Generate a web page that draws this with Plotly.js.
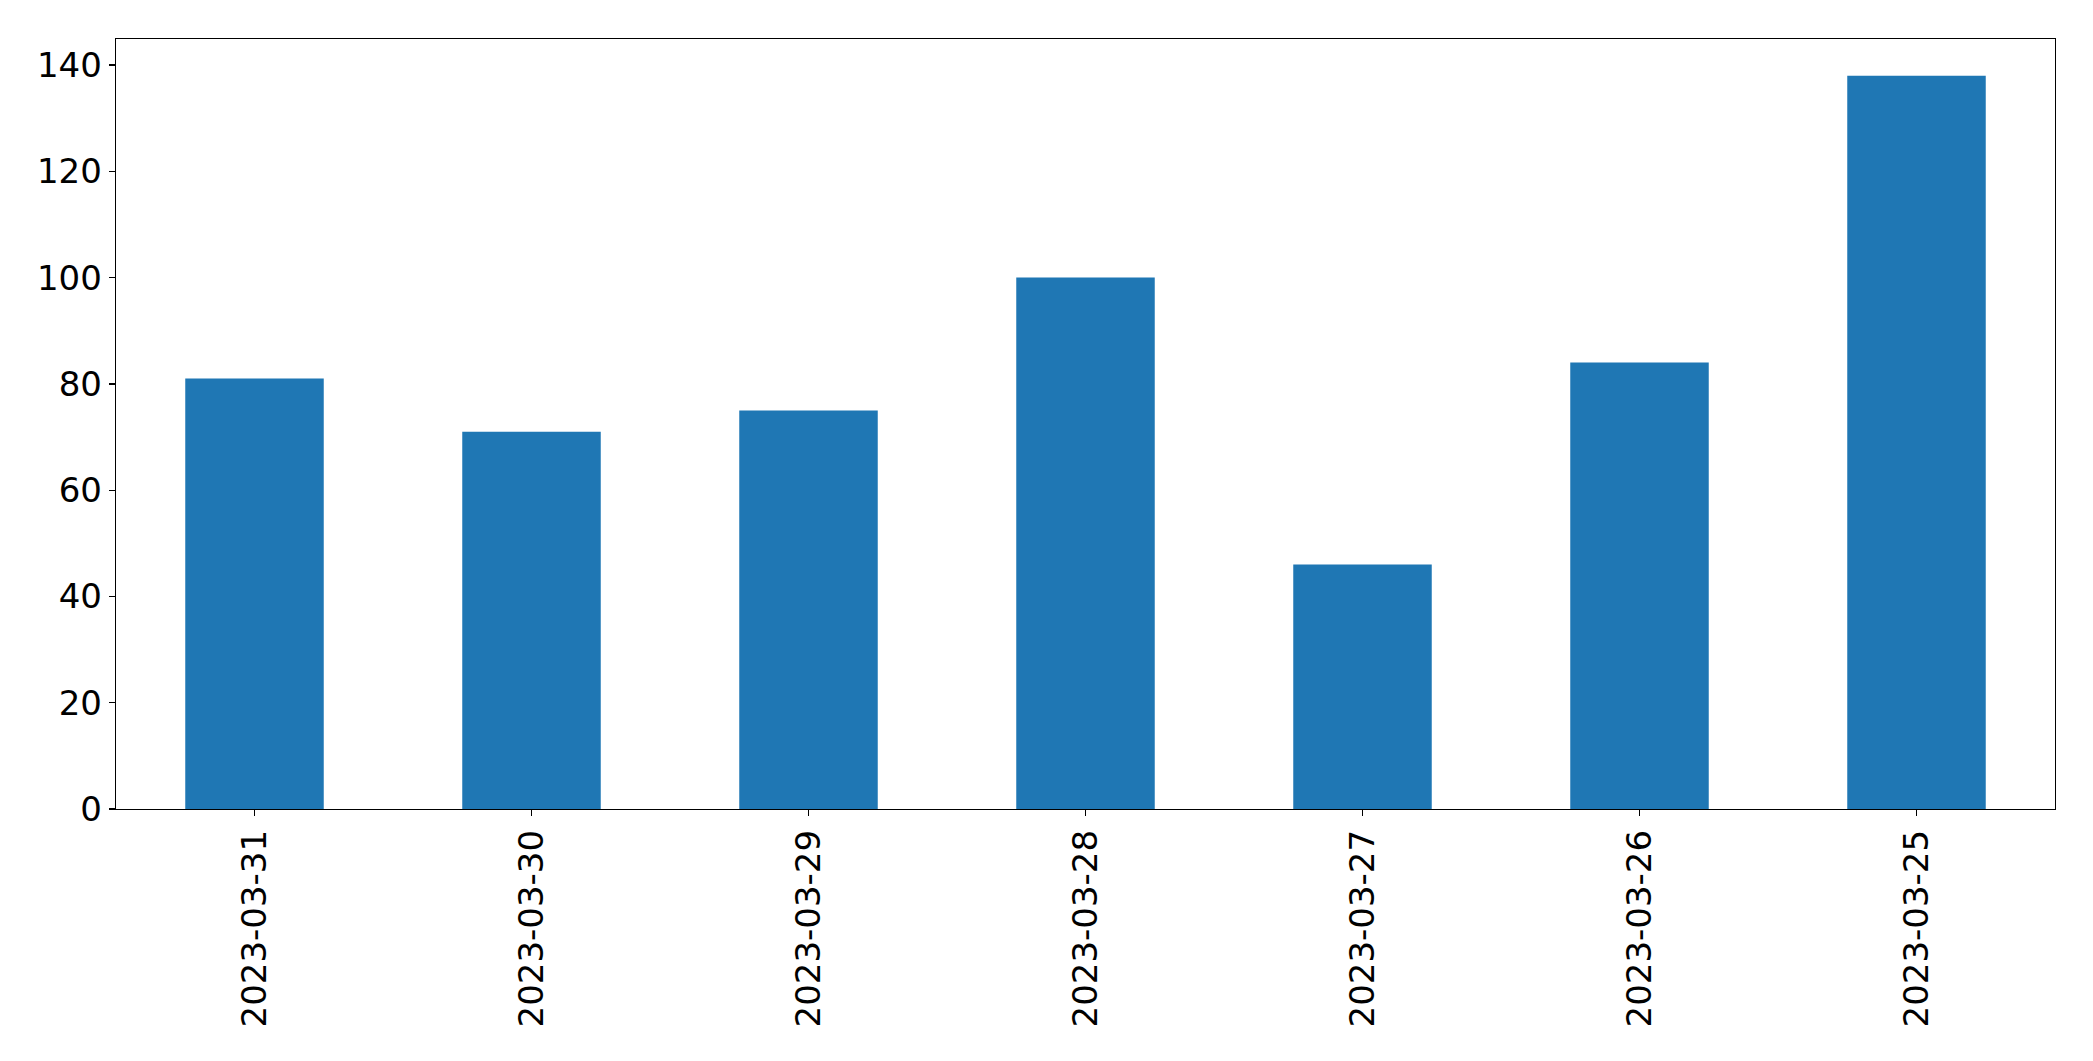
<!DOCTYPE html>
<html>
<head>
<meta charset="utf-8">
<script src="https://cdn.plot.ly/plotly-3.0.1.min.js"></script>
<style>html,body{margin:0;padding:0;background:#fff;}#chart{width:2093px;height:1061px;}</style>
</head>
<body>
<div id="chart"></div>
<script>
const categories = ["2023-03-31","2023-03-30","2023-03-29","2023-03-28","2023-03-27","2023-03-26","2023-03-25"];
const values = [81, 71, 75, 100, 46, 84, 138];
const yTicks = [0, 20, 40, 60, 80, 100, 120, 140];

const font = {family: "DejaVu Sans", size: 34, color: "#000"};
Plotly.newPlot("chart", [{
  type: "bar",
  x: categories,
  y: values,
  marker: {color: "#1f77b4", line: {width: 0}},
  hoverinfo: "skip"
}], {
  width: 2093, height: 1061,
  margin: {l: 116, r: 38, t: 39, b: 252, pad: 0},
  paper_bgcolor: "#fff", plot_bgcolor: "#fff",
  bargap: 0.5,
  showlegend: false,
  font: font,
  xaxis: {
    type: "category",
    range: [-0.5, 6.5],
    showline: true, mirror: true, linecolor: "#000", linewidth: 1.3,
    ticks: "outside", ticklen: 6, tickwidth: 1.3, tickcolor: "#000",
    tickangle: -90, tickfont: font, showgrid: false, zeroline: false
  },
  yaxis: {
    range: [0, 144.9],
    tickvals: yTicks,
    ticktext: yTicks.map(String),
    showline: true, mirror: true, linecolor: "#000", linewidth: 1.3,
    ticks: "outside", ticklen: 6, tickwidth: 1.3, tickcolor: "#000",
    tickfont: font, showgrid: false, zeroline: false
  }
}, {displayModeBar: false, staticPlot: true});
</script>
</body>
</html>
